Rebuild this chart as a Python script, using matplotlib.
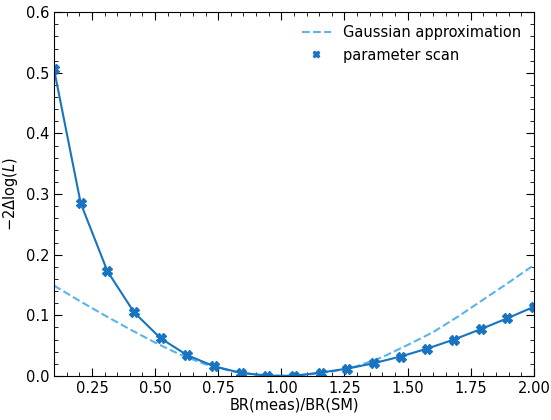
import matplotlib.pyplot as plt
from matplotlib.ticker import MultipleLocator

# parameter scan points
br_scan = [0.1, 0.2056, 0.3111, 0.4167, 0.5222, 0.6278, 0.7333, 0.8389, 0.9444, 1.05,
           1.1556, 1.2611, 1.3667, 1.4722, 1.5778, 1.6833, 1.7889, 1.8944, 2.0]
nll_scan = [0.506, 0.285, 0.173, 0.105, 0.062, 0.034, 0.016, 0.005, 0.0005, 0.0,
            0.0055, 0.012, 0.021, 0.032, 0.045, 0.060, 0.077, 0.095, 0.114]

# gaussian approximation
br_gauss = [0.1, 0.2, 0.3, 0.4, 0.5, 0.6, 0.7, 0.8, 0.9, 1.0,
            1.1, 1.2, 1.3, 1.4, 1.5, 1.6, 1.7, 1.8, 1.9, 2.0]
nll_gauss = [0.149, 0.124, 0.100, 0.077, 0.055, 0.035, 0.019, 0.008, 0.002, 0.0,
             0.002, 0.007, 0.016, 0.031, 0.051, 0.072, 0.098, 0.126, 0.154, 0.183]

col_scan = '#1874c0'
col_gauss = '#5ab4e8'
fs = 10.5

fig = plt.figure(figsize=(5.51, 4.2), dpi=100)
ax = fig.add_axes([0.098, 0.105, 0.871, 0.866])

ax.plot(br_gauss, nll_gauss, '--', color=col_gauss, lw=1.5, label='Gaussian approximation')
ax.plot(br_scan, nll_scan, '-', color=col_scan, lw=1.5)
ax.plot(br_scan, nll_scan, 'X', color=col_scan, ms=7, ls='none', label='parameter scan')

ax.set_xlim(0.1, 2.0)
ax.set_ylim(0, 0.6)
ax.xaxis.set_major_locator(MultipleLocator(0.25))
ax.xaxis.set_minor_locator(MultipleLocator(0.05))
ax.yaxis.set_major_locator(MultipleLocator(0.1))
ax.yaxis.set_minor_locator(MultipleLocator(0.02))
ax.tick_params(which='both', direction='in', top=True, right=True, labelsize=fs)
ax.tick_params(which='major', length=6)
ax.tick_params(which='minor', length=3)

ax.set_xlabel('BR(meas)/BR(SM)', fontsize=fs, labelpad=1)
ax.set_ylabel(r'$-2\Delta\log(L)$', fontsize=fs)
ax.legend(frameon=False, loc='upper right', fontsize=fs, markerscale=0.65)

fig.savefig('out.png', dpi=100)
